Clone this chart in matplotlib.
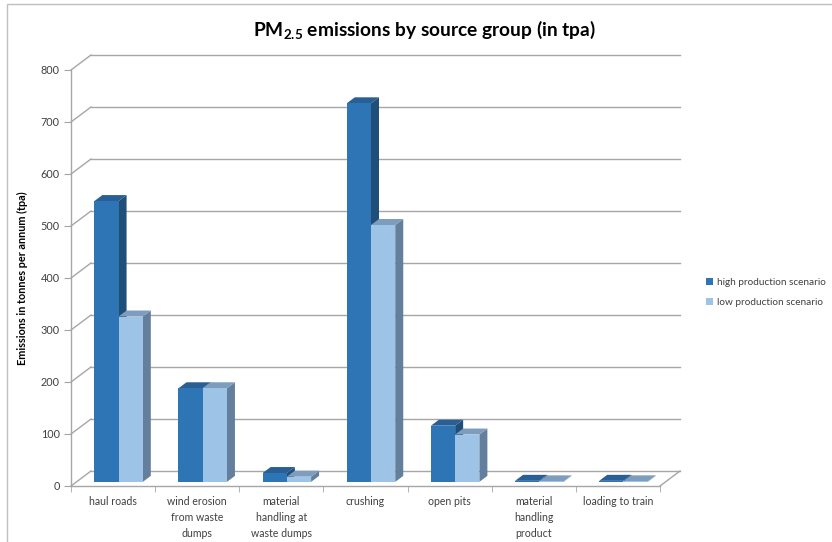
import numpy as np
import matplotlib
matplotlib.use("Agg")
import matplotlib.pyplot as plt
from matplotlib.patches import Polygon, Patch, Rectangle

plt.rcParams["font.family"] = ["Lato", "DejaVu Sans"]
plt.rcParams["mathtext.default"] = "regular"

# ── Data ────────────────────────────────────────────────────
categories = ["haul roads", "wind erosion\nfrom waste\ndumps",
              "material\nhandling at\nwaste dumps", "crushing", "open pits",
              "material\nhandling\nproduct", "loading to train"]
high_prod = [540, 180, 17, 728, 108, 2, 2]
low_prod = [318, 180, 10, 494, 91, 1, 1]
series_names = ["high production scenario", "low production scenario"]
yticks = list(range(0, 801, 100))

# face colours: front, side, top
COLORS = {
    "high": ("#2E75B6", "#1F4E79", "#2A5F95"),
    "low": ("#9DC3E6", "#647F9B", "#7E9DBE"),
}
GRID = "#A6A6A6"
TEXT = "#404040"

# ── Layout (pixel based, 100 dpi) ────────────────────────────
W, H = 832, 542
fig = plt.figure(figsize=(W / 100, H / 100), dpi=100)
ax_l, ax_r, ax_t, ax_b = 71, 660, 70, 486
ax = fig.add_axes([ax_l / W, 1 - ax_b / H, (ax_r - ax_l) / W, (ax_b - ax_t) / H])
n = len(categories)
ax.set_xlim(0, n)
ax.set_ylim(0, 800)

# depth of the 3D box, converted from pixels to data units
px_per_cat = (ax_r - ax_l) / n
px_per_val = (ax_b - ax_t) / 800
DX = 20 / px_per_cat
DY = 15 / px_per_val

# back wall gridlines and side wall diagonals
for v in yticks:
    ax.plot([DX, n + DX], [v + DY, v + DY], color=GRID, lw=1, clip_on=False, zorder=1)
    ax.plot([0, DX], [v, v + DY], color=GRID, lw=1, clip_on=False, zorder=1)
ax.plot([n, n + DX], [0, DY], color=GRID, lw=1, clip_on=False, zorder=1)

# ── Bars with fake depth ────────────────────────────────────
w = 0.288          # bar width in category units
f0, d = 0.275, 0.4  # bar start depth and bar depth (fractions of box depth)
z = 3
for i in range(n):
    for j, (key, vals) in enumerate([("high", high_prod), ("low", low_prod)]):
        front, side, top_c = COLORS[key]
        v = vals[i]
        xl = i + 0.5 - w + j * w + f0 * DX
        xr = xl + w
        base = f0 * DY
        top = base + v
        ax.add_patch(Polygon([(xr, base), (xr + d * DX, base + d * DY),
                              (xr + d * DX, top + d * DY), (xr, top)],
                             closed=True, facecolor=side, edgecolor="none",
                             clip_on=False, zorder=z))
        ax.add_patch(Polygon([(xl, top), (xr, top), (xr + d * DX, top + d * DY),
                              (xl + d * DX, top + d * DY)],
                             closed=True, facecolor=top_c, edgecolor="none",
                             clip_on=False, zorder=z))
        ax.bar(xl, v, width=w, bottom=base, align="edge", color=front,
               edgecolor="none", clip_on=False, zorder=z + 1)
        z += 2

# ── Axes styling ────────────────────────────────────────────
for s in ["top", "right"]:
    ax.spines[s].set_visible(False)
for s in ["left", "bottom"]:
    ax.spines[s].set_color(GRID)
    ax.spines[s].set_linewidth(1)
    ax.spines[s].set_zorder(2)

ax.set_yticks(yticks)
ax.set_yticklabels([str(t) for t in yticks], fontsize=7.8, color=TEXT)
ax.tick_params(axis="y", length=5, color=GRID, pad=3)

ax.set_xticks(np.arange(n) + 0.5)
ax.set_xticklabels(categories, fontsize=7.6, color=TEXT, linespacing=1.55, va="top")
ax.set_xticks(np.arange(n + 1), minor=True)
ax.tick_params(axis="x", which="major", length=0, pad=7)
ax.tick_params(axis="x", which="minor", length=4, color=GRID)

ax.set_ylabel("Emissions in tonnes per annum (tpa)", fontsize=7.8, fontweight="bold",
              color="black", labelpad=9)

fig.text(424 / W, 1 - 30 / H, "PM$_{2.5}$ emissions by source group (in tpa)",
         ha="center", va="center", fontsize=13.8, fontweight="bold", color="black")

handles = [Patch(facecolor=COLORS["high"][0]), Patch(facecolor=COLORS["low"][0])]
fig.legend(handles, series_names, loc="upper left",
           bbox_to_anchor=(697 / W, 1 - 269 / H), frameon=False, fontsize=7.2,
           handlelength=0.7, handleheight=0.7, handletextpad=0.4, labelspacing=1.1,
           labelcolor=TEXT)

# chart area border
fig.add_artist(Rectangle((7 / W, -0.1), 1.2, 1 - 4 / H + 0.1, transform=fig.transFigure,
                         fill=False, edgecolor="#BFBFBF", lw=1))

fig.savefig("out.png", dpi=100)
